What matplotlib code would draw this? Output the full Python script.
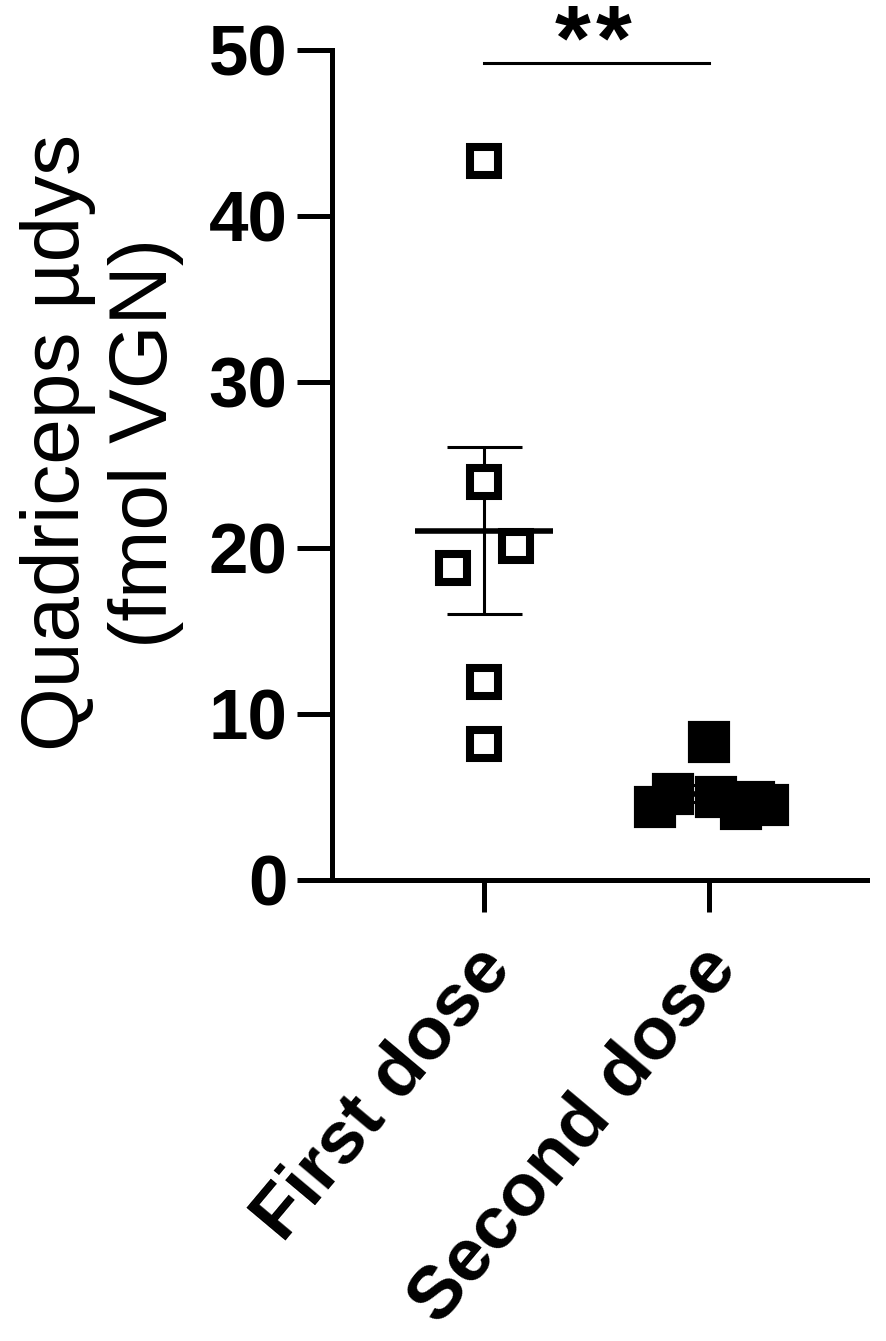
import numpy as np
import matplotlib
matplotlib.use('Agg')
import matplotlib.pyplot as plt
from matplotlib.transforms import ScaledTranslation

# === DATA ===
categories = ['First dose', 'Second dose']
first_dose = [43.3, 24.0, 20.1, 18.8, 11.9, 8.2]
second_dose = [8.3, 4.4, 5.2, 5.0, 4.3, 4.7, 4.5]
y_ticks = [0, 10, 20, 30, 40, 50]
y_label = 'Quadriceps µdys\n(fmol VGN)'
signif = ['*', '*']

# horizontal scatter of the points around each group (layout only)
first_jitter = [0.0, 0.0, 0.14, -0.14, 0.0, 0.0]
second_jitter = [0.0, -0.24, -0.16, 0.03, 0.14, 0.20, 0.26]

plt.rcParams['font.family'] = ['Liberation Sans', 'DejaVu Sans']

fig = plt.figure(figsize=(8.86, 13.41), dpi=100)
ax = fig.add_axes([0.3747, 0.3438, 0.604, 0.6189])

# === POINTS ===
ax.plot(np.array(first_jitter) + 0, first_dose, 's', ms=20.5, mew=5.8,
        mfc='white', mec='black', zorder=4, clip_on=False)
ax.plot(np.array(second_jitter) + 1, second_dose, 's', ms=28, mew=3,
        mfc='black', mec='black', zorder=4, clip_on=False)

# === MEAN +/- SEM ===
for i, vals in enumerate([first_dose, second_dose]):
    vals = np.array(vals)
    mean = vals.mean()
    sem = vals.std(ddof=1) / np.sqrt(len(vals))
    ax.hlines(mean, i - 0.306, i + 0.306, color='black', lw=4, zorder=3)
    ax.errorbar(i, mean, yerr=sem, fmt='none', ecolor='black', elinewidth=2.2,
                capsize=27, capthick=2.2, zorder=3)

# === SIGNIFICANCE ===
ax.plot([0, 1], [49.2, 49.2], color='black', lw=2.2, clip_on=False)
for xs, star in zip([0.395, 0.575], signif):
    ax.text(xs, 48.85, star, ha='center', va='baseline', fontsize=66,
            fontweight='bold')

# === AXES ===
ax.set_xlim(-0.676, 1.702)
ax.set_ylim(0, 50)
for side in ['top', 'right']:
    ax.spines[side].set_visible(False)
for side in ['left', 'bottom']:
    ax.spines[side].set_linewidth(3.6)

ax.set_yticks(y_ticks)
ax.set_yticklabels([str(t) for t in y_ticks], fontsize=51, fontweight='bold')
ax.tick_params(axis='y', length=25, width=3.6, pad=7)

ax.set_xticks([0, 1])
ax.set_xticklabels(categories, rotation=50, ha='right', rotation_mode='anchor',
                   fontsize=54, fontweight='bold')
ax.tick_params(axis='x', length=23, width=3.6, pad=16)
offset = ScaledTranslation(-12 / 100, 0, fig.dpi_scale_trans)
for lbl in ax.get_xticklabels():
    lbl.set_transform(lbl.get_transform() + offset)

fig.text(0.115, 0.670, y_label, rotation=90, ha='center', va='center',
         fontsize=59, linespacing=1.2, multialignment='center')

fig.savefig('out.png', dpi=100)
